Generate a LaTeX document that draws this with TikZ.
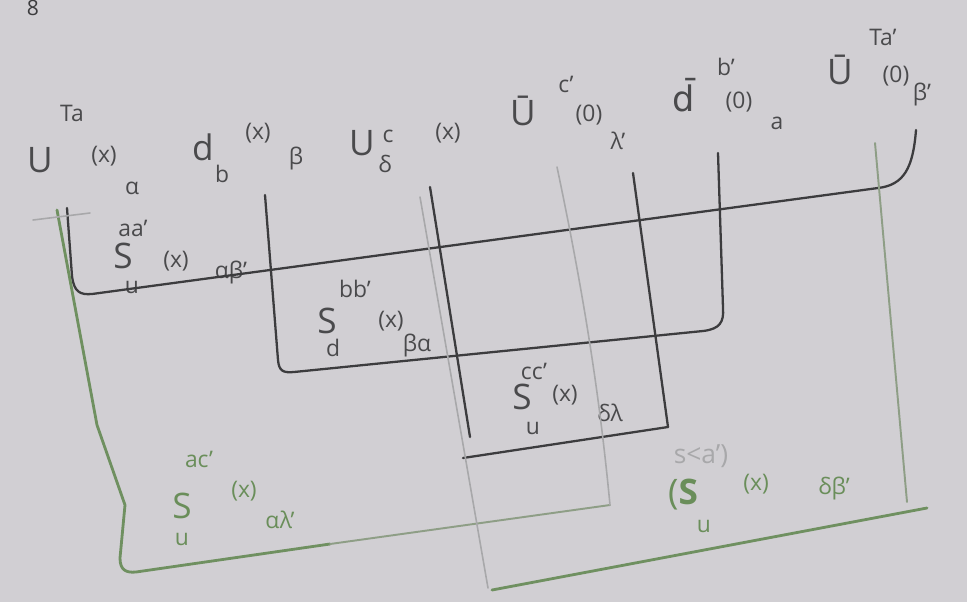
\documentclass[tikz,border=0pt]{standalone}
\usepackage{fontspec}
\setmainfont{Open Sans}
\newfontfamily\djvfont{DejaVu Sans}
\definecolor{bgc}{HTML}{D1CFD3}
\definecolor{inkc}{HTML}{3C3C3E}
\definecolor{txtc}{HTML}{4A4A4C}
\definecolor{greenc}{HTML}{6F9060}
\definecolor{greentxt}{HTML}{6A8E5A}
\definecolor{palec}{HTML}{A8A8AA}
\definecolor{palegreen}{HTML}{8E9E86}
\begin{document}
\begin{tikzpicture}[x=0.2mm,y=-0.2mm]
\tikzset{
  inkline/.style={draw=inkc, line width=1.3pt, line cap=round, line join=round},
  gline/.style={draw=greenc, line width=1.6pt, line cap=round, line join=round},
  paleline/.style={draw=palec, line width=0.9pt, line cap=round},
  pgline/.style={draw=palegreen, line width=1.1pt, line cap=round},
  big/.style={font=\fontsize{20}{20}\selectfont, text=txtc, inner sep=0pt},
  sm/.style={font=\fontsize{13}{13}\selectfont, text=txtc, inner sep=0pt},
  gbig/.style={big, text=greentxt},
  gsm/.style={sm, text=greentxt},
  graysm/.style={font=\fontsize{15}{15}\selectfont, text=palec, inner sep=0pt}
}
\fill[bgc] (0,0) rectangle (967,602);
\useasboundingbox (0,0) rectangle (967,602);

% ---- top fields ----
\node[font=\fontsize{12}{12}\selectfont, text=inkc, inner sep=0pt] (top) at (33,8) {8};

\node[sm]  (t1T) at (72,113) {Ta};
\node[big] (t1U) at (40,160) {U};
\node[sm]  (t1x) at (104,156) {(x)};
\node[sm]  (t1a) at (132,188) {α};

\node[big] (t2d) at (203,147) {d};
\node[sm]  (t2x) at (258,133) {(x)};
\node[sm]  (t2b) at (222,174) {b};
\node[sm]  (t2be) at (296,158) {β};

\node[big] (t3U) at (362,143) {U};
\node[sm]  (t3c) at (388,136) {c};
\node[sm]  (t3d) at (385,164) {δ};
\node[sm]  (t3x) at (448,133) {(x)};

\node[big] (t4U) at (523,111) {\=U};
\node[sm]  (t4c) at (566,84) {c'};
\node[sm]  (t4x) at (589,115) {(0)};
\node[sm]  (t4l) at (618,141) {λ'};

\node[big] (t5d) at (684,95) {\djvfont d\char"0304};
\node[sm]  (t5b) at (726,67) {b'};
\node[sm]  (t5x) at (739,102) {(0)};
\node[sm]  (t5a) at (777,123) {a};

\node[big] (t6U) at (840,70) {\=U};
\node[sm]  (t6T) at (883,37) {Ta'};
\node[sm]  (t6x) at (896,76) {(0)};
\node[sm]  (t6b) at (922,94) {β'};

% ---- propagator labels ----
\node[sm]  (p1s) at (133,228) {aa'};
\node[big] (p1S) at (123,256) {S};
\node[sm]  (p1x) at (176,261) {(x)};
\node[sm]  (p1u) at (132,287) {u};
\node[sm]  (p1i) at (231,272) {αβ'};

\node[sm]  (p2s) at (355,289) {bb'};
\node[big] (p2S) at (327,321) {S};
\node[sm]  (p2x) at (391,321) {(x)};
\node[sm]  (p2u) at (333,348) {d};
\node[sm]  (p2i) at (417,345) {βα};

\node[sm]  (p3s) at (534,371) {cc'};
\node[big] (p3S) at (522,397) {S};
\node[sm]  (p3x) at (565,395) {(x)};
\node[sm]  (p3u) at (533,428) {u};
\node[sm]  (p3i) at (610,413) {δλ};

\node[gsm]  (p4s) at (199,459) {ac'};
\node[gbig] (p4S) at (182,506) {S};
\node[gsm]  (p4x) at (244,491) {(x)};
\node[gsm]  (p4u) at (182,539) {u};
\node[gsm]  (p4i) at (280,520) {αλ'};

\node[graysm] (p5n) at (701,456) {s<a')};
\node[gbig] (p5S) at (683,495) {(\textbf{S}};
\node[gsm]  (p5x) at (756,484) {(x)};
\node[gsm]  (p5u) at (704,526) {u};
\node[gsm]  (p5i) at (834,488) {δβ'};

% ---- contraction lines ----
\coordinate (a0) at (67,208);
\coordinate (a1) at (916,130);
\draw[inkline] (a0) -- (72,276) .. controls (74,292) and (80,295) .. (92,294)
  -- (878,188) .. controls (904,185) and (913,168) .. (a1);

\coordinate (b0) at (265,195);
\coordinate (b1) at (718,153);
\draw[inkline] (b0) -- (278,360) .. controls (279,371) and (283,373) .. (294,372)
  -- (703,331) .. controls (720,329) and (724,322) .. (723,308) -- (b1);

\coordinate (c0) at (430,187);
\coordinate (c1) at (470,437);
\coordinate (c2) at (633,173);
\coordinate (c3) at (668,427);
\draw[inkline] (c0) -- (c1);
\draw[inkline] (c2) -- (c3);
\draw[inkline] (463,458) -- (c3);

\coordinate (d0) at (57,210);
\coordinate (d1) at (557,167);
\coordinate (d2) at (610,505);
\draw[gline] (d0) -- (97,425) -- (125,505) -- (120,558) .. controls (120,570) and (126,573) .. (136,572) -- (330,544);
\draw[pgline] (330,544) -- (d2);
\draw[paleline] (d1) .. controls (585,300) and (600,400) .. (d2);

\coordinate (e0) at (420,197);
\coordinate (e1) at (488,588);
\coordinate (e2) at (875,143);
\coordinate (e3) at (907,502);
\draw[paleline] (e0) -- (e1);
\draw[gline] (492,590) -- (927,508);
\draw[pgline] (e2) -- (e3);

\draw[paleline] (33,220) -- (90,213);
\end{tikzpicture}
\end{document}
